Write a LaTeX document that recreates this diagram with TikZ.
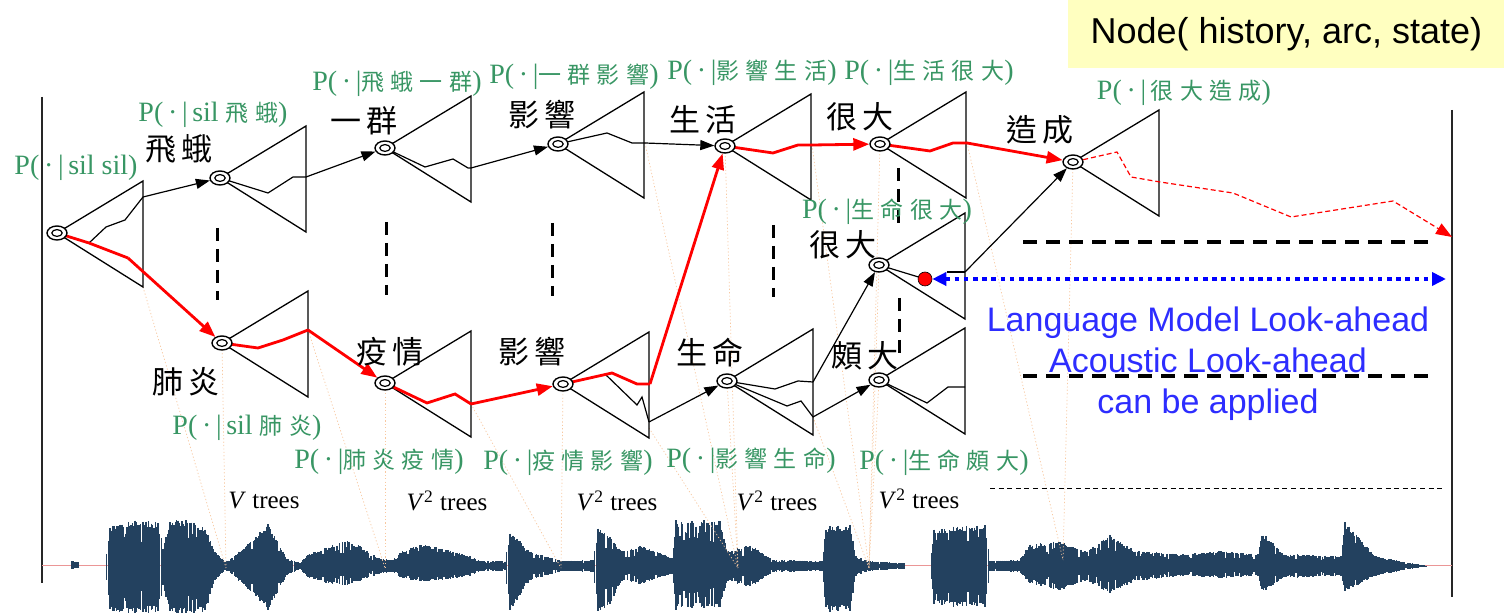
\documentclass[tikz,border=0pt]{standalone}
\usepackage{fontspec}
\setmainfont{Liberation Serif}
\newfontfamily\arialf{Liberation Sans}
\newfontfamily\cjkb[LetterSpace=18]{Noto Sans CJK TC}
\newfontfamily\cjkg[LetterSpace=28]{Noto Sans CJK TC}
\usetikzlibrary{arrows.meta,shapes.geometric}
\definecolor{lmgreen}{RGB}{56,150,100}
\definecolor{wavec}{RGB}{35,65,95}
\definecolor{boxy}{RGB}{255,255,192}
\definecolor{txtblue}{RGB}{45,45,255}
\definecolor{dotorange}{RGB}{248,200,160}
\definecolor{basepink}{RGB}{235,150,150}
\newcommand\gcj[1]{{\cjkg\fontsize{11.5}{13}\selectfont #1}}
\newcommand\gsp{\hspace{3pt}}
\begin{document}
\begin{tikzpicture}[x=0.5pt,y=-0.5pt,
  hmm/.style={ellipse, draw, line width=0.7pt, fill=white, minimum width=10pt, minimum height=7pt, inner sep=0pt},
  triline/.style={line width=0.65pt},
  pathk/.style={line width=0.6pt},
  pathr/.style={red, line width=1.4pt},
  arrk/.style={line width=0.6pt, -{Triangle[length=7pt,width=5pt]}},
  arrr/.style={red, line width=1.4pt, -{Triangle[length=8pt,width=6pt]}},
  glab/.style={text=lmgreen, font=\fontsize{14}{16}\selectfont, inner sep=0pt},
  wlab/.style={font=\cjkb\fontsize{15.5}{17}\selectfont, inner sep=0pt},
  tlab/.style={font=\fontsize{12.5}{14}\selectfont, inner sep=0pt},
  vdash/.style={line width=1.5pt, dash pattern=on 6.5pt off 4pt},
  hdash/.style={line width=1.6pt, dash pattern=on 7pt off 4.5pt},
  orline/.style={dotorange, line width=0.35pt, dash pattern=on 0.6pt off 1.1pt},
  reddot/.style={circle, fill=red, draw=black, line width=0.3pt, minimum size=7pt, inner sep=0pt},
  bluearr/.style={blue, line width=2pt, dash pattern=on 2.3pt off 2.3pt, {Triangle[length=7pt,width=6.5pt]}-{Triangle[length=7pt,width=6.5pt]}}
]
\useasboundingbox (0,0) rectangle (1504,613);
\fill[white] (0,0) rectangle (1504,613);

% title box
\node[fill=boxy, minimum width=218pt, minimum height=34pt, inner sep=0pt, anchor=north west,
      font=\arialf\fontsize{18}{20}\selectfont] (title) at (1068,0) {Node( history, arc, state)};

% frame lines
\draw[line width=0.6pt, black!85] (42,97) -- (42,583);
\draw[line width=0.6pt, black!85] (1452,110) -- (1452,597);

% waveform
\pgfmathsetseed{12}
\begin{scope}
\clip (0,0) rectangle (1504,613);
\draw[basepink, line width=0.5pt] (42,566) -- (1452,566);
\foreach \xa/\ua/\da [remember=\xa as \ppx (initially 42), remember=\ua as \ppu (initially 0), remember=\da as \ppd (initially 0)] in
 {42/0/0,70/0/0,72/5/3,78/4/2,80/0/0,105/0/0,110/40/46,135/46/48,158/44/46,163/20/22,170/46/48,190/46/48,205/38/46,215/15/15,225/5/5,232/8/8,268/42/44,287/8/10,300/3/3,308/12/12,330/20/18,345/26/20,360/20/15,378/8/8,392/6/6,400/14/12,420/22/16,440/18/14,470/10/10,480/5/5,505/5/5,510/34/46,520/25/30,530/15/15,562/5/5,593/6/6,598/38/46,610/30/40,622/15/15,640/20/18,660/14/12,672/8/8,676/46/44,720/46/42,728/15/15,750/22/22,774/6/6,822/5/5,826/40/46,850/42/46,856/10/10,870/5/5,904/3/3,906/0/0,930/0/0,934/38/40,985/42/42,990/5/5,1019/6/6,1030/22/18,1060/25/25,1087/15/15,1110/32/28,1135/15/15,1183/12/10,1220/15/12,1258/12/10,1262/34/27,1284/12/12,1341/10/10,1345/45/26,1375/10/10,1410/3/3,1428/0/0,1452/0/0} {
  \pgfmathtruncatemacro\nn{max(1,(\xa-\ppx)/1.3)}
  \foreach \i in {0,...,\nn} {
    \pgfmathsetmacro\tq{\i/\nn}
    \pgfmathsetmacro\xx{\ppx+(\xa-\ppx)*\tq}
    \pgfmathsetmacro\rf{rnd<0.12 ? 0.5+0.3*rnd : 0.85+0.15*rnd}
    \pgfmathsetmacro\yu{566-(\ppu+(\ua-\ppu)*\tq)*\rf}
    \pgfmathsetmacro\yd{566+(\ppd+(\da-\ppd)*\tq)*\rf}
    \draw[wavec, line width=0.7pt] (\xx,\yu) -- (\xx,\yd);
  }
}
\end{scope}

% node positions
\coordinate (cA) at (57,233);
\coordinate (cB) at (220,178);
\coordinate (cC) at (385,148);
\coordinate (cD) at (558,144);
\coordinate (cE) at (725,146);
\coordinate (cF) at (880,144);
\coordinate (cG) at (1073,162);
\coordinate (cH) at (222,343);
\coordinate (cI) at (385,383);
\coordinate (cJ) at (563,384);
\coordinate (cK) at (727,381);
\coordinate (cL) at (879,380);
\coordinate (cM) at (879,265);
% edge points
\coordinate (eA) at (143,197);
\coordinate (rA) at (128,258);
\coordinate (eB) at (306,177);
\coordinate (eC) at (471,168);
\coordinate (eD) at (645,143);
\coordinate (rE) at (812,145);
\coordinate (rF) at (967,143);
\coordinate (rG) at (1452,237);
\coordinate (rH) at (308,330);
\coordinate (rI) at (471,404);
\coordinate (rJ) at (650,384);
\coordinate (eJ) at (649,422);
\coordinate (eK1) at (813,382);
\coordinate (eK2) at (813,417);
\coordinate (eM) at (965,272);
\coordinate (bend) at (1446,279);
% waveform alignment points
\coordinate (wA) at (226,568);
\coordinate (wB) at (385,568);
\coordinate (wC) at (561,568);
\coordinate (wD) at (738,568);
\coordinate (wE) at (869,568);
\coordinate (wF) at (1063,560);

% orange dotted alignment lines
\draw[orline] (143,287) -- (wA);  \draw[orline] (cH) -- (wA);
\draw[orline] (rH) -- (wB);  \draw[orline] (cI) -- (wB);
\draw[orline] (rI) -- (wC);  \draw[orline] (cJ) -- (wC);
\draw[orline] (eD) -- (wD);  \draw[orline] (cE) -- (wD);
\draw[orline] (649,428) -- (wD);  \draw[orline] (cK) -- (wD);
\draw[orline] (rE) -- (wE);  \draw[orline] (eK2) -- (wE);
\draw[orline] (cF) -- (wE);  \draw[orline] (cM) -- (wE);  \draw[orline] (cL) -- (wE);
\draw[orline] (rF) -- (wF);  \draw[orline] (cG) -- (wF);

% dashed separators
\draw[vdash] (217,228) -- (217,300);
\draw[vdash] (386,222) -- (386,295);
\draw[vdash] (552,223) -- (552,296);
\draw[vdash] (773,225) -- (773,297);
\draw[vdash] (898,168) -- (898,226);
\draw[vdash] (899,298) -- (899,356);
\draw[hdash] (1023,242) -- (1435,242);
\draw[hdash] (1023,376) -- (1435,376);
\draw[line width=0.5pt, dash pattern=on 2.5pt off 1.8pt] (990,489) -- (1445,489);

% trees (triangles)
\foreach \c in {cA,cB,cC,cD,cE,cF,cG,cH,cI,cJ,cK,cL,cM}
  \draw[triline] (\c) -- ++(86,-52) -- ++(0,106) -- cycle;

% partial paths inside trees
\draw[pathk] (89,243) -- (106,227) -- (125,220) -- (eA);
\draw[pathk] (cB) -- (268,193) -- (293,177) -- (eB);
\draw[pathk] (cC) -- (425,167) -- (453,159) -- (468,168) -- (eC);
\draw[pathk] (cD) -- (607,133) -- (632,143) -- (eD);
\draw[pathk] (605,374) -- (637,405) -- (642,397) -- (eJ);
\draw[pathk] (cK) -- (775,389) -- (798,381) -- (eK1);
\draw[pathk] (cK) -- (787,406) -- (801,401) -- (eK2);
\draw[pathk] (cL) -- (927,403) -- (948,387) -- (965,387);
\draw[pathk] (cM) -- (925,279);
\draw[pathk] (947,272) -- (eM);
\draw[pathr] (cA) -- (89,243) -- (rA);
\draw[pathr] (cH) -- (258,348) -- (283,340) -- (rH);
\draw[pathr] (cI) -- (427,403) -- (455,394) -- (rI);
\draw[pathr] (cJ) -- (612,373) -- (637,384) -- (rJ);
\draw[pathr] (cE) -- (773,153) -- (798,145) -- (rE);
\draw[pathr] (cF) -- (930,151) -- (953,143) -- (rF);

% HMM nodes
\node[hmm] (n0) at (cA) {};
\node[hmm] (n1) at (cB) {};
\node[hmm] (n2) at (cC) {};
\node[hmm] (n3) at (cD) {};
\node[hmm] (n4) at (cE) {};
\node[hmm] (n5) at (cF) {};
\node[hmm] (n6) at (cG) {};
\node[hmm] (m1) at (cH) {};
\node[hmm] (m2) at (cI) {};
\node[hmm] (m3) at (cJ) {};
\node[hmm] (m4) at (cK) {};
\node[hmm] (m5) at (cL) {};
\node[hmm] (k1) at (cM) {};
\foreach \n in {n0,n1,n2,n3,n4,n5,n6,m1,m2,m3,m4,m5,k1}
  \draw[line width=0.6pt] (\n.center) ellipse (2.6pt and 1.7pt);

% red dashed continuation
\draw[red, line width=0.6pt, dash pattern=on 2.5pt off 1.5pt, -{Triangle[length=8pt,width=6pt]}]
  (n6) -- (1117,152) -- (1131,177) -- (1160,182) -- (1233,193) -- (1291,217) -- (1393,201) -- (rG);

% connectors
\draw[arrk] (eA) -- (n1);
\draw[arrk] (eB) -- (n2);
\draw[arrk] (eC) -- (n3);
\draw[arrk] (eD) -- (n4);
\draw[arrk] (eJ) -- (m4);
\draw[arrk] (eK1) -- (k1);
\draw[arrk] (eK2) -- (m5);
\draw[arrk] (eM) -- (n6);
\draw[arrr] (rA) -- (m1);
\draw[arrr] (rH) -- (m2);
\draw[arrr] (rI) -- (m3);
\draw[arrr] (rJ) -- (n4);
\draw[arrr] (rE) -- (n5);
\draw[arrr] (rF) -- (n6);

% look-ahead
\node[reddot] (rd) at (925,279) {};
\draw[bluearr] (rd) -- (bend);
\node[text=txtblue, align=center, font=\arialf\fontsize{17}{20.5}\selectfont, inner sep=0pt] (la) at (1208,364)
  {Language Model Look-ahead\\Acoustic Look-ahead\\can be applied};

% word labels
\node[wlab] (w1) at (179,149) {飛蛾};
\node[wlab] (w2) at (364,121) {一群};
\node[wlab] (w3) at (542,115) {影響};
\node[wlab] (w4) at (703,120) {生活};
\node[wlab] (w5) at (860,117) {很大};
\node[wlab] (w6) at (1040,130) {造成};
\node[wlab] (w7) at (843,245) {很大};
\node[wlab] (w8) at (186,382) {肺炎};
\node[wlab] (w9) at (390,352) {疫情};
\node[wlab] (w10) at (532,352) {影響};
\node[wlab] (w11) at (710,353) {生命};
\node[wlab] (w12) at (865,356) {頗大};

% LM context labels
\node[glab] (g0) at (76,168) {P(\,·\,|\,sil sil)};
\node[glab] (g1) at (213,115) {P(\,·\,|\,sil \gcj{飛蛾})};
\node[glab] (g2) at (397,84) {P(\,·\,|\gcj{飛蛾}\gsp\gcj{一群})};
\node[glab] (g3) at (574,77) {P(\,·\,|\gcj{一群}\gsp\gcj{影響})};
\node[glab] (g4) at (752,73) {P(\,·\,|\gcj{影響}\gsp\gcj{生活})};
\node[glab] (g5) at (929,73) {P(\,·\,|\gcj{生活}\gsp\gcj{很大})};
\node[glab] (g6) at (1184,93) {P(\,·\,|\,\gcj{很大}\gsp\gcj{造成})};
\node[glab] (g7) at (887,212) {P(\,·\,|\gcj{生命很大})};
\node[glab] (g8) at (247,428) {P(\,·\,|\,sil \gcj{肺炎})};
\node[glab] (g9) at (379,462) {P(\,·\,|\gcj{肺炎}\gsp\gcj{疫情})};
\node[glab] (g10) at (568,463) {P(\,·\,|\gcj{疫情}\gsp\gcj{影響})};
\node[glab] (g11) at (751,461) {P(\,·\,|\gcj{影響}\gsp\gcj{生命})};
\node[glab] (g12) at (944,463) {P(\,·\,|\gcj{生命}\gsp\gcj{頗大})};

% tree counts
\node[tlab] (t1) at (264,501) {\textit{V} trees};
\node[tlab] (t2) at (447,501) {\textit{V}\textsuperscript{2} trees};
\node[tlab] (t3) at (617,501) {\textit{V}\textsuperscript{2} trees};
\node[tlab] (t4) at (777,501) {\textit{V}\textsuperscript{2} trees};
\node[tlab] (t5) at (919,499) {\textit{V}\textsuperscript{2} trees};
\end{tikzpicture}
\end{document}
